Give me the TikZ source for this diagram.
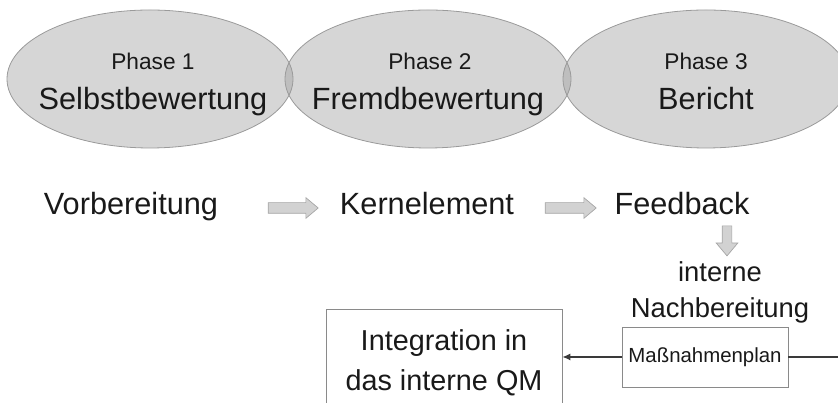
\documentclass[tikz,border=0pt]{standalone}
\usepackage{fontspec}
\setmainfont{Liberation Sans}
\usetikzlibrary{shapes.geometric,shapes.arrows,arrows.meta}
\definecolor{ellfill}{HTML}{999999}
\definecolor{ellline}{HTML}{9A9A9A}
\definecolor{arrfill}{HTML}{D2D2D2}
\definecolor{arrline}{HTML}{A6A6A6}
\definecolor{boxline}{HTML}{8A8A8A}
\definecolor{connline}{HTML}{3A3A3A}
\tikzset{
  phaseell/.style={ellipse, draw=ellline, line width=0.8pt, fill=ellfill, fill opacity=0.4, minimum width=286pt, minimum height=138pt, inner sep=0pt},
  smalltxt/.style={font=\fontsize{22.7}{26}\selectfont, anchor=base, text=black!90},
  bigtxt/.style={font=\fontsize{30.7}{36}\selectfont, anchor=base, text=black!90},
  blockarrow/.style={single arrow, draw=arrline, fill=arrfill, line width=0.7pt, inner xsep=0pt, inner ysep=5pt, single arrow head extend=5pt, single arrow tip angle=80},
  plainbox/.style={rectangle, draw=boxline, line width=0.8pt, inner sep=0pt, align=center},
  conn/.style={draw=connline, line width=1.2pt}
}
\begin{document}
\begin{tikzpicture}[x=1pt,y=1pt]
\useasboundingbox (0,0) rectangle (838,403);
\clip (0,0) rectangle (838,403);
% ellipses
\node[phaseell] (e1) at (150,324) {};
\node[phaseell] (e2) at (428,324) {};
\node[phaseell] (e3) at (706,324) {};
\node[smalltxt] (p1) at ([xshift=3pt,yshift=9pt]e1.center) {Phase 1};
\node[bigtxt] (s1) at ([xshift=3pt,yshift=-31pt]e1.center) {Selbstbewertung};
\node[smalltxt] (p2) at ([xshift=2pt,yshift=9pt]e2.center) {Phase 2};
\node[bigtxt] (s2) at ([xshift=0pt,yshift=-31pt]e2.center) {Fremdbewertung};
\node[smalltxt] (p3) at ([yshift=9pt]e3.center) {Phase 3};
\node[bigtxt] (s3) at ([yshift=-31pt]e3.center) {Bericht};
% row 2
\node[bigtxt] (vor) at (131,188) {Vorbereitung};
\node[bigtxt] (kern) at (427,188) {Kernelement};
\node[bigtxt] (feed) at (682,188) {Feedback};
\node[blockarrow, minimum height=50pt] (a1) at (290,195) {};
\node[blockarrow, minimum height=51pt] (a2) at (567.5,195) {};
\node[blockarrow, minimum height=30pt, inner ysep=4.5pt, single arrow head extend=6pt, rotate=-90] (a3) at (727,165) {};
% Nachbereitung
\node[font=\fontsize{27.4}{32}\selectfont, anchor=base, text=black!90] (int) at (720,121) {interne};
\node[font=\fontsize{27.4}{32}\selectfont, anchor=base, text=black!90] (nach) at (720,85) {Nachbereitung};
% boxes
\node[plainbox, minimum width=166pt, minimum height=60pt, font=\fontsize{20.4}{24}\selectfont, text=black!90] (mplan) at (705,46) {Maßnahmenplan};
\node[plainbox, minimum width=236pt, minimum height=107pt, font=\fontsize{28.8}{40}\selectfont, text=black!90] (intbox) at (444,40.5) {Integration in\\das interne QM};
\coordinate (rt) at (845,46);
\draw[conn] (mplan.east) -- (rt);
\draw[conn, -{Latex[length=8pt,width=7pt]}] (mplan.west) -- (mplan.west -| intbox.east);
\end{tikzpicture}
\end{document}
